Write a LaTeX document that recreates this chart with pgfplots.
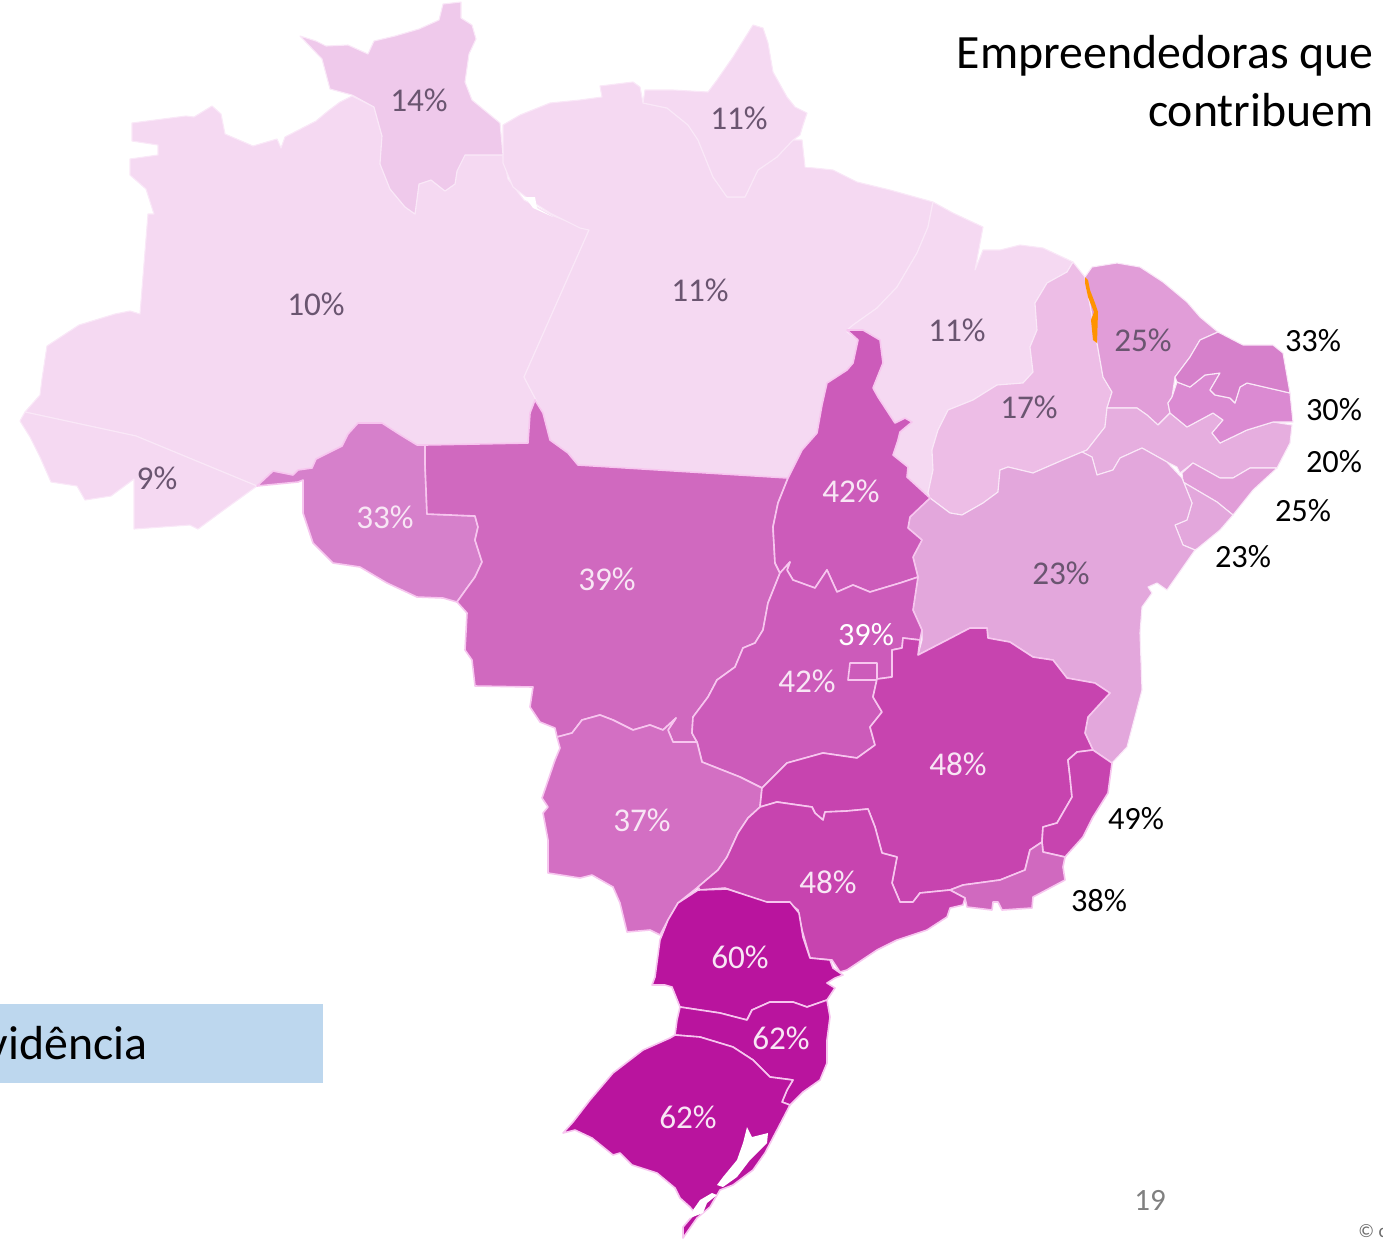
\documentclass[border=0pt]{standalone}
\usepackage{fontspec}
\setmainfont{Carlito}
\usepackage{pgfplots}
\pgfplotsset{compat=1.18}

\definecolor{c10}{HTML}{F5D9F2}
\definecolor{c14}{HTML}{EFC9EB}
\definecolor{c17}{HTML}{EDBDE6}
\definecolor{c20}{HTML}{E6AEDF}
\definecolor{c23}{HTML}{E3A7DC}
\definecolor{c25}{HTML}{E19DD8}
\definecolor{c30}{HTML}{DB8AD2}
\definecolor{c33}{HTML}{D680CB}
\definecolor{c37}{HTML}{D36FC3}
\definecolor{c39}{HTML}{D069BF}
\definecolor{c42}{HTML}{CC5BBA}
\definecolor{c48}{HTML}{C744AF}
\definecolor{c60}{HTML}{B9149E}
\definecolor{lineN}{HTML}{FAE8F8}
\definecolor{lineS}{HTML}{F7C6EF}
\definecolor{txtD}{HTML}{6A5570}
\definecolor{txtL}{HTML}{F8E6F5}
\definecolor{boxb}{HTML}{BDD7EE}

\tikzset{
  regN/.style={draw=lineN, line width=.55pt, line join=round},
  regS/.style={draw=lineS, line width=.8pt, line join=round},
  lab/.style={font=\fontsize{16.6}{19}\selectfont, inner sep=0pt},
  labD/.style={lab, text=txtD},
  labL/.style={lab, text=txtL},
  labK/.style={inner sep=0pt, font=\fontsize{16.2}{19}\selectfont, text=black},
  big/.style={anchor=base east, inner sep=0pt, font=\fontsize{23.9}{28}\selectfont},
}

\begin{document}
\begin{tikzpicture}
\clip (0,0) rectangle (691.5pt,619.5pt);
\begin{axis}[
  at={(0,0)}, anchor=south west,
  scale only axis, width=691.5pt, height=619.5pt,
  xmin=0, xmax=1383, ymin=0, ymax=1239, y dir=reverse,
  hide axis,
]
% blue box
\addplot[fill=boxb, draw=none] coordinates {(0,1004) (323,1004) (323,1083) (0,1083)} --cycle;

% Amazonas
\addplot[regN, fill=c10] coordinates {(132,123) (186,116) (194,117) (212,106) (221,114) (225,134) (253,146) (277,139) (281,148) (285,137) (316,121) (328,111) (340,102) (352,96) (374,107) (382,136) (380,164) (390,189) (405,207) (415,214) (419,184) (431,180) (445,191) (455,184) (457,171) (465,155) (503,155) (508,179) (524,200) (554,216) (589,230) (524,377) (536,400) (528,443) (425,445) (417,445) (399,434) (382,423) (358,423) (348,434) (342,446) (316,459) (312,468) (298,470) (293,475) (273,471) (257,486) (136,436) (25,412) (40,395) (42,379) (47,346) (79,325) (115,314) (130,311) (140,314) (148,214) (154,214) (146,189) (130,175) (130,159) (158,155) (158,145) (132,141)} --cycle;
% Acre
\addplot[regN, fill=c10] coordinates {(25,412) (20,421) (30,437) (40,457) (51,482) (77,486) (85,500) (111,496) (134,479) (134,529) (190,525) (198,529) (221,512) (257,486) (136,436)} --cycle;
% Para
\addplot[regN, fill=c10] coordinates {(503,125) (520,115) (550,103) (580,100) (602,97) (600,86) (633,82) (640,87) (643,103) (667,108) (688,125) (698,140) (713,177) (727,197) (745,197) (758,170) (777,157) (793,140) (802,140) (805,167) (833,170) (857,182) (890,190) (933,202) (928,227) (917,253) (897,287) (877,308) (853,325) (847,332) (858,340) (853,363) (847,370) (827,383) (822,405) (817,433) (802,450) (788,478) (578,465) (568,453) (550,440) (543,413) (536,400) (524,377) (589,230) (580,228) (550,213) (530,200) (513,187) (503,163)} --cycle;
% Amapa
\addplot[regN, fill=c10] coordinates {(643,103) (645,90) (673,90) (708,92) (717,80) (733,57) (753,25) (763,28) (768,43) (773,72) (787,97) (795,107) (807,113) (803,125) (800,135) (793,140) (777,157) (758,170) (745,197) (727,197) (713,177) (698,140) (688,125) (667,108)} --cycle;
% Maranhao
\addplot[regN, fill=c10] coordinates {(933,202) (953,213) (983,227) (975,270) (983,250) (1000,250) (1020,245) (1043,248) (1073,262) (1067,272) (1047,283) (1035,303) (1037,330) (1030,347) (1033,372) (1023,383) (997,385) (973,400) (948,410) (938,430) (932,450) (933,470) (928,493) (930,498) (907,477) (908,467) (893,455) (898,440) (900,432) (912,422) (905,418) (895,423) (878,397) (873,388) (883,363) (880,340) (863,330) (847,330) (853,325) (877,308) (897,287) (917,253) (928,227)} --cycle;
% river gaps
\addplot[fill=white, draw=none] coordinates {(525,197) (535,197) (537,208) (553,217) (533,208)} --cycle;
\addplot[fill=white, draw=none] coordinates {(805,167) (815,158) (825,163) (815,167)} --cycle;
% Roraima
\addplot[regN, fill=c14] coordinates {(461,2) (461,18) (472,25) (476,39) (469,54) (465,82) (472,100) (500,123) (503,155) (465,155) (457,171) (455,184) (445,191) (431,180) (419,184) (415,214) (405,207) (390,189) (380,164) (382,136) (374,107) (352,95) (330,89) (322,59) (300,36) (316,41) (326,46) (348,45) (368,54) (374,41) (395,36) (419,29) (439,20) (443,4)} --cycle;
% Piaui
\addplot[regN, fill=c17] coordinates {(1073,262) (1085,277) (1097,343) (1103,377) (1112,392) (1107,408) (1105,427) (1087,450) (1082,452) (1063,460) (1033,473) (1008,467) (1000,470) (998,492) (983,503) (962,515) (950,513) (930,498) (928,493) (933,470) (932,450) (938,430) (948,410) (973,400) (997,385) (1023,383) (1033,372) (1030,347) (1037,330) (1035,303) (1047,283) (1067,272)} --cycle;
% Ceara
\addplot[regN, fill=c25] coordinates {(1092,267) (1117,263) (1140,267) (1163,282) (1187,302) (1200,317) (1218,332) (1200,340) (1190,357) (1175,377) (1172,397) (1168,403) (1170,413) (1158,425) (1147,415) (1137,408) (1107,408) (1112,392) (1103,377) (1097,343) (1085,277)} --cycle;
% orange sliver
\addplot[fill=orange!85!yellow, draw=none] coordinates {(1085,277) (1088,280) (1090,290) (1095,303) (1098,312) (1097,343) (1093,340) (1091,320) (1094,312) (1088,297) (1085,283)} --cycle;
% Pernambuco
\addplot[regN, fill=c20] coordinates {(1107,408) (1137,408) (1147,415) (1158,425) (1170,413) (1187,427) (1213,413) (1223,420) (1212,433) (1220,443) (1247,430) (1273,422) (1292,425) (1290,443) (1277,468) (1250,468) (1233,478) (1220,478) (1193,463) (1180,473) (1177,467) (1167,462) (1142,448) (1120,458) (1113,470) (1097,475) (1092,457) (1082,452) (1087,450) (1105,427)} --cycle;
% Alagoas
\addplot[regN, fill=c25] coordinates {(1182,473) (1193,463) (1220,478) (1233,478) (1250,468) (1277,468) (1253,490) (1233,515) (1217,502) (1183,482)} --cycle;
% Sergipe
\addplot[regN, fill=c23] coordinates {(1183,482) (1217,502) (1233,515) (1220,530) (1198,548) (1195,550) (1183,545) (1175,525) (1187,520) (1192,503) (1182,478)} --cycle;
% Paraiba
\addplot[regN, fill=c30] coordinates {(1172,397) (1177,382) (1190,387) (1205,375) (1220,373) (1210,390) (1215,395) (1230,398) (1235,403) (1240,387) (1247,383) (1290,393) (1293,422) (1273,422) (1247,430) (1220,443) (1212,433) (1223,420) (1213,413) (1187,427) (1170,413) (1168,403)} --cycle;
% Rio Grande do Norte
\addplot[regN, fill=c33] coordinates {(1200,340) (1218,332) (1243,345) (1273,345) (1283,353) (1290,393) (1247,383) (1240,387) (1235,403) (1230,398) (1215,395) (1210,390) (1220,373) (1205,375) (1190,387) (1177,382) (1175,377) (1190,357)} --cycle;
% Bahia
\addplot[regN, fill=c23] coordinates {(930,498) (950,513) (962,515) (983,503) (998,492) (1000,470) (1008,467) (1033,473) (1063,460) (1082,452) (1092,457) (1097,475) (1113,470) (1120,458) (1142,448) (1167,462) (1182,478) (1192,503) (1187,520) (1175,525) (1183,545) (1195,550) (1167,590) (1157,583) (1148,587) (1152,593) (1142,607) (1140,633) (1142,690) (1127,747) (1112,763) (1093,750) (1085,733) (1088,717) (1110,693) (1095,683) (1067,678) (1053,660) (1033,657) (1010,642) (988,638) (987,628) (970,628) (947,640) (918,655) (922,640) (922,630) (913,610) (918,577) (913,557) (922,540) (908,528) (910,517)} --cycle;
% Rondonia
\addplot[regS, fill=c33] coordinates {(257,486) (273,471) (293,475) (298,470) (312,468) (316,459) (342,446) (348,434) (358,423) (382,423) (399,434) (417,445) (425,445) (425,464) (427,514) (475,516) (478,527) (475,540) (482,562) (475,577) (467,588) (457,602) (443,598) (417,597) (387,583) (360,567) (333,563) (313,543) (303,513) (303,480) (298,482)} --cycle;
% Mato Grosso
\addplot[regS, fill=c39] coordinates {(535,400) (543,413) (550,440) (568,453) (578,465) (788,478) (778,503) (773,527) (775,563) (780,573) (768,603) (763,630) (755,643) (743,648) (735,667) (717,680) (708,697) (693,717) (692,733) (697,742) (673,742) (668,730) (676,718) (663,730) (650,725) (633,730) (613,720) (600,715) (582,720) (572,733) (557,737) (555,728) (540,722) (530,707) (533,687) (475,686) (472,660) (465,650) (467,613) (457,602) (467,588) (475,577) (482,562) (475,540) (478,527) (475,516) (427,514) (425,464) (425,445) (528,443) (530,413)} --cycle;
% Tocantins
\addplot[regS, fill=c42] coordinates {(847,330) (863,330) (880,340) (883,363) (873,388) (878,397) (895,423) (905,418) (912,422) (900,432) (898,440) (893,455) (908,467) (907,477) (930,498) (910,517) (908,528) (922,540) (913,557) (918,577) (900,583) (870,592) (853,585) (837,592) (827,570) (815,588) (793,580) (787,570) (790,562) (780,573) (775,563) (773,527) (778,503) (788,478) (802,450) (817,433) (822,405) (827,383) (847,370) (853,363) (858,340)} --cycle;
% Goias
\addplot[regS, fill=c42] coordinates {(780,573) (790,562) (787,570) (793,580) (815,588) (827,570) (837,592) (853,585) (870,592) (900,583) (918,577) (913,610) (922,630) (920,640) (903,638) (902,648) (892,650) (892,677) (877,679) (873,697) (882,712) (870,727) (875,745) (857,758) (823,753) (787,763) (773,777) (762,788) (740,777) (702,762) (697,742) (692,733) (693,717) (708,697) (717,680) (735,667) (743,648) (755,643) (763,630) (768,603)} --cycle;
% Distrito Federal
\addplot[regS, fill=c42] coordinates {(850,663) (877,663) (877,680) (848,680)} --cycle;
% Mato Grosso do Sul
\addplot[regS, fill=c37] coordinates {(557,737) (572,733) (582,720) (600,715) (613,720) (633,730) (650,725) (663,730) (676,718) (668,730) (673,742) (697,742) (702,762) (740,777) (762,788) (760,807) (748,818) (738,833) (727,857) (718,870) (698,887) (678,903) (668,920) (660,935) (650,930) (627,932) (620,903) (613,887) (592,875) (580,878) (548,873) (548,840) (543,813) (548,807) (542,798) (555,760) (560,748)} --cycle;
% Minas Gerais
\addplot[regS, fill=c48] coordinates {(918,655) (947,640) (970,628) (987,628) (988,638) (1010,642) (1033,657) (1053,660) (1067,678) (1095,683) (1110,693) (1088,717) (1085,733) (1093,750) (1077,752) (1068,760) (1070,777) (1072,797) (1057,823) (1043,827) (1042,842) (1030,850) (1025,870) (1000,880) (963,885) (950,890) (920,893) (913,902) (900,902) (892,883) (897,857) (882,853) (875,827) (868,809) (847,811) (825,812) (823,820) (815,813) (812,807) (777,802) (760,807) (762,788) (773,777) (787,763) (823,753) (857,758) (875,745) (870,727) (882,712) (873,697) (877,679) (892,677) (892,650) (902,648) (903,638) (920,640)} --cycle;
% Espirito Santo
\addplot[regS, fill=c48] coordinates {(1077,752) (1093,750) (1112,763) (1108,793) (1093,817) (1083,837) (1065,857) (1043,852) (1042,842) (1043,827) (1057,823) (1072,797) (1070,777) (1068,760)} --cycle;
% Rio de Janeiro
\addplot[regS, fill=c39] coordinates {(1042,842) (1043,852) (1065,857) (1063,867) (1065,880) (1033,897) (1032,908) (1002,910) (998,902) (993,902) (992,910) (967,907) (965,898) (950,890) (963,885) (1000,880) (1025,870) (1030,850)} --cycle;
% Sao Paulo
\addplot[regS, fill=c48] coordinates {(760,807) (777,802) (812,807) (815,813) (823,820) (825,812) (847,811) (868,809) (875,827) (882,853) (897,857) (892,883) (900,902) (913,902) (920,893) (950,890) (965,898) (963,905) (950,908) (947,917) (927,930) (897,940) (877,950) (847,970) (840,972) (832,960) (810,958) (802,930) (798,910) (788,902) (765,902) (725,888) (700,890) (698,887) (718,870) (727,857) (738,833) (748,818)} --cycle;
% Parana
\addplot[regS, fill=c60] coordinates {(698,890) (727,889) (767,902) (790,902) (799,913) (803,937) (810,958) (830,960) (833,968) (843,975) (835,978) (827,983) (835,988) (827,1000) (807,1007) (793,1002) (770,1002) (752,1010) (747,1020) (720,1013) (680,1007) (672,987) (665,985) (652,985) (655,977) (660,940) (668,920) (678,903)} --cycle;
% Santa Catarina
\addplot[regS, fill=c60] coordinates {(680,1007) (720,1013) (747,1020) (752,1010) (770,1002) (793,1002) (807,1007) (827,1000) (830,1017) (827,1040) (827,1063) (820,1080) (803,1092) (790,1105) (782,1102) (787,1090) (793,1080) (770,1077) (753,1060) (733,1047) (700,1037) (675,1035) (677,1020)} --cycle;
% Rio Grande do Sul
\addplot[regS, fill=c60] coordinates {(675,1035) (700,1037) (733,1047) (753,1060) (770,1077) (793,1080) (787,1090) (782,1102) (790,1105) (777,1130) (765,1153) (753,1170) (733,1185) (720,1190) (710,1207) (697,1218) (683,1238) (683,1227) (695,1213) (690,1207) (680,1198) (675,1188) (657,1173) (632,1165) (620,1153) (613,1155) (592,1138) (575,1130) (563,1133) (573,1122) (590,1100) (613,1073) (643,1050) (670,1038)} --cycle;
% lagoons
\addplot[fill=white, draw=none] coordinates {(747,1127) (752,1137) (768,1133) (767,1143) (750,1160) (737,1177) (723,1187) (717,1185) (723,1177) (737,1160) (743,1143)} --cycle;
\addplot[fill=white, draw=none] coordinates {(712,1193) (717,1195) (707,1203) (703,1213) (690,1218) (693,1210) (700,1200)} --cycle;

% labels on the map
\node[labD] at (axis cs:419,100) {14\%};
\node[labD] at (axis cs:739,118) {11\%};
\node[labD] at (axis cs:316,304) {10\%};
\node[labD] at (axis cs:700,290) {11\%};
\node[labD] at (axis cs:957,330) {11\%};
\node[labD] at (axis cs:1143,340) {25\%};
\node[labD] at (axis cs:1029,407) {17\%};
\node[labD] at (axis cs:157,478) {9\%};
\node[labD] at (axis cs:1061,573) {23\%};
\node[labL] at (axis cs:385,517) {33\%};
\node[labL] at (axis cs:851,491) {42\%};
\node[labL] at (axis cs:607,579) {39\%};
\node[labL] at (axis cs:807,681) {42\%};
\node[labL] at (axis cs:958,764) {48\%};
\node[labL] at (axis cs:642,820) {37\%};
\node[labL] at (axis cs:828,882) {48\%};
\node[labL] at (axis cs:740,957) {60\%};
\node[labL] at (axis cs:781,1038) {62\%};
\node[labL] at (axis cs:688,1117) {62\%};
\node[labK, text=white] at (axis cs:866,635) {39\%};
% labels outside
\node[labK] at (axis cs:1313,341) {33\%};
\node[labK] at (axis cs:1334,410) {30\%};
\node[labK] at (axis cs:1334,462) {20\%};
\node[labK] at (axis cs:1303,511) {25\%};
\node[labK] at (axis cs:1243,557) {23\%};
\node[labK] at (axis cs:1136,819) {49\%};
\node[labK] at (axis cs:1099,901) {38\%};
% other text
\node[big] at (axis cs:1374,68) {Empreendedoras que};
\node[big] at (axis cs:1374,126) {contribuem};
\node[big] at (axis cs:148,1059) {vidência};
\node[inner sep=0pt, text=gray, font=\fontsize{15.5}{18}\selectfont] at (axis cs:1150,1200) {19};
\node[anchor=base west, inner sep=0pt, text=gray!85!black, font=\fontsize{9.5}{11}\selectfont] at (axis cs:1358,1237) {© c};
\end{axis}
\end{tikzpicture}
\end{document}
